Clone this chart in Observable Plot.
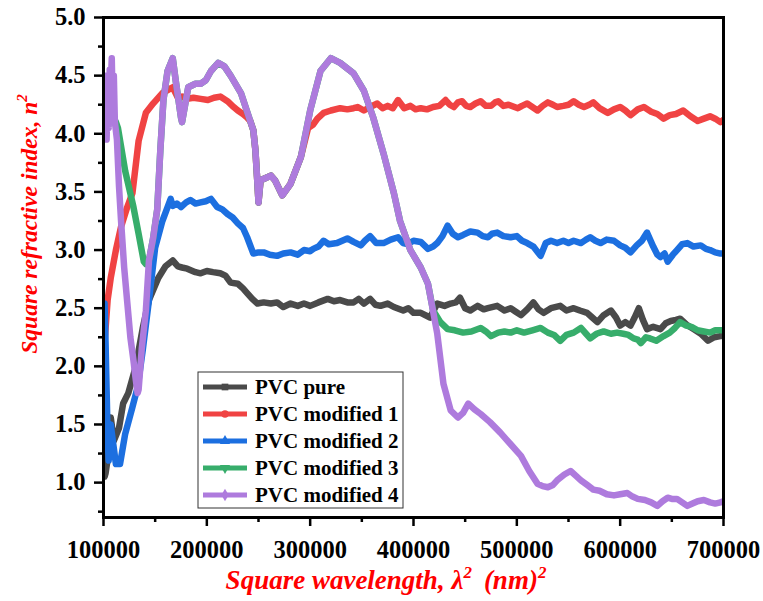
<!DOCTYPE html>
<html><head><meta charset="utf-8">
<script src="https://cdn.jsdelivr.net/npm/d3@7"></script>
<script src="https://cdn.jsdelivr.net/npm/@observablehq/plot@0.6"></script>
<style>body{margin:0;background:#fff}</style>
</head><body><div id="chart"></div>
<script>
const seriesNames = ["PVC pure", "PVC modified 1", "PVC modified 2", "PVC modified 3", "PVC modified 4"];
const seriesColors = ["#4a4a4a", "#f04343", "#1c6fe0", "#37ad6b", "#ae7bdd"];
const xTicks = [100000, 200000, 300000, 400000, 500000, 600000, 700000];
const xMinorTicks = [150000, 250000, 350000, 450000, 550000, 650000];
const yTicks = [1.0, 1.5, 2.0, 2.5, 3.0, 3.5, 4.0, 4.5, 5.0];
const yMinorTicks = [0.75, 1.25, 1.75, 2.25, 2.75, 3.25, 3.75, 4.25, 4.75];

const pvcPure = [[100000,1.35],[101000,1.05],[102000,1.08],[104000,1.20],[107000,1.56],[110000,1.36],[115000,1.47],[119000,1.68],[124000,1.77],[131000,1.99],[138000,2.33],[144000,2.57],[153000,2.76],[160000,2.86],[167000,2.91],[172000,2.86],[176000,2.85],[181000,2.84],[189000,2.81],[194000,2.80],[200000,2.82],[206000,2.81],[213000,2.80],[218000,2.78],[223000,2.72],[230000,2.71],[235000,2.67],[239000,2.63],[244000,2.58],[249000,2.54],[255000,2.55],[262000,2.54],[268000,2.55],[274000,2.51],[281000,2.54],[288000,2.52],[294000,2.54],[300000,2.52],[308000,2.55],[317000,2.58],[323000,2.56],[329000,2.57],[336000,2.55],[342000,2.55],[347000,2.58],[352000,2.54],[358000,2.58],[363000,2.53],[368000,2.52],[375000,2.54],[381000,2.51],[390000,2.48],[395000,2.50],[400000,2.46],[407000,2.46],[416000,2.42],[423000,2.54],[430000,2.52],[436000,2.54],[441000,2.55],[445000,2.59],[450000,2.50],[455000,2.48],[462000,2.52],[468000,2.49],[472000,2.50],[481000,2.52],[488000,2.48],[494000,2.50],[499000,2.47],[504000,2.44],[510000,2.49],[516000,2.55],[521000,2.49],[526000,2.46],[533000,2.50],[542000,2.52],[548000,2.48],[555000,2.50],[561000,2.48],[568000,2.46],[573000,2.42],[578000,2.38],[584000,2.44],[591000,2.48],[596000,2.42],[600000,2.35],[605000,2.38],[610000,2.35],[614000,2.42],[618000,2.50],[622000,2.40],[626000,2.32],[632000,2.34],[639000,2.32],[644000,2.37],[649000,2.39],[654000,2.40],[658000,2.41],[664000,2.36],[671000,2.32],[678000,2.28],[685000,2.22],[691000,2.25],[697000,2.26],[700000,2.28]];

const pvcMod1 = [[100000,1.88],[101000,2.20],[104000,2.57],[107000,2.76],[112000,3.00],[117000,3.20],[123000,3.37],[128000,3.49],[134000,3.94],[141000,4.18],[148000,4.26],[157000,4.35],[165000,4.39],[167000,4.40],[172000,4.31],[176000,4.32],[181000,4.30],[187000,4.31],[194000,4.30],[201000,4.29],[207000,4.31],[213000,4.32],[220000,4.28],[226000,4.23],[230000,4.20],[235000,4.17],[239000,4.14],[242000,4.11],[245000,4.03],[247000,3.86],[249000,3.57],[250000,3.41],[252000,3.60],[257000,3.62],[262000,3.64],[266000,3.60],[273000,3.47],[281000,3.57],[291000,3.80],[298000,4.05],[303000,4.08],[307000,4.13],[313000,4.18],[320000,4.20],[329000,4.22],[336000,4.21],[342000,4.22],[346000,4.23],[352000,4.20],[358000,4.23],[365000,4.26],[370000,4.22],[375000,4.24],[380000,4.22],[385000,4.29],[391000,4.22],[397000,4.24],[402000,4.21],[407000,4.22],[413000,4.21],[419000,4.23],[425000,4.24],[431000,4.29],[435000,4.25],[439000,4.23],[443000,4.27],[447000,4.28],[451000,4.24],[455000,4.23],[460000,4.26],[465000,4.28],[470000,4.24],[475000,4.24],[479000,4.27],[482000,4.28],[487000,4.24],[492000,4.25],[501000,4.22],[505000,4.24],[510000,4.26],[515000,4.23],[520000,4.20],[525000,4.24],[530000,4.27],[535000,4.25],[539000,4.23],[545000,4.24],[550000,4.25],[555000,4.28],[560000,4.25],[565000,4.23],[570000,4.25],[574000,4.27],[580000,4.22],[588000,4.18],[594000,4.21],[600000,4.23],[605000,4.20],[610000,4.16],[617000,4.21],[623000,4.23],[630000,4.19],[636000,4.17],[642000,4.13],[648000,4.16],[654000,4.17],[661000,4.20],[668000,4.15],[675000,4.11],[681000,4.13],[687000,4.15],[692000,4.13],[697000,4.10],[700000,4.12]];

const pvcMod2 = [[100000,2.10],[101000,2.54],[102000,2.20],[103000,1.80],[104000,1.40],[105000,1.19],[107000,1.50],[109000,1.36],[112000,1.16],[116000,1.16],[121000,1.42],[128000,1.65],[133000,1.82],[138000,2.14],[144000,2.57],[150000,3.02],[157000,3.25],[165000,3.44],[167000,3.38],[171000,3.40],[175000,3.37],[180000,3.41],[184000,3.43],[189000,3.40],[194000,3.41],[199000,3.42],[204000,3.44],[210000,3.37],[215000,3.35],[220000,3.31],[225000,3.28],[230000,3.23],[235000,3.19],[239000,3.11],[245000,2.97],[250000,2.98],[255000,2.98],[261000,2.96],[268000,2.95],[274000,2.97],[281000,2.98],[288000,2.96],[294000,3.00],[300000,2.99],[303000,3.01],[308000,3.03],[313000,3.08],[318000,3.05],[326000,3.06],[331000,3.08],[336000,3.10],[342000,3.07],[349000,3.04],[353000,3.08],[358000,3.12],[364000,3.06],[371000,3.06],[378000,3.09],[385000,3.11],[390000,3.06],[394000,3.05],[400000,3.08],[407000,3.07],[414000,3.01],[419000,3.03],[423000,3.06],[428000,3.12],[433000,3.21],[438000,3.14],[443000,3.11],[448000,3.13],[455000,3.16],[462000,3.15],[467000,3.12],[472000,3.11],[476000,3.14],[481000,3.15],[487000,3.12],[494000,3.11],[500000,3.12],[505000,3.08],[510000,3.06],[516000,3.03],[523000,2.95],[528000,3.06],[533000,3.08],[539000,3.06],[545000,3.08],[550000,3.06],[555000,3.08],[562000,3.06],[567000,3.09],[571000,3.11],[576000,3.08],[581000,3.06],[587000,3.09],[594000,3.08],[600000,3.04],[605000,3.02],[610000,2.98],[616000,3.04],[621000,3.08],[626000,3.15],[632000,3.03],[636000,2.96],[639000,2.94],[643000,2.97],[646000,2.90],[651000,2.96],[655000,3.00],[660000,3.05],[665000,3.06],[671000,3.03],[678000,3.04],[683000,3.01],[687000,3.00],[692000,2.98],[697000,2.97],[700000,2.97]];

const pvcMod3 = [[100000,4.30],[103000,4.35],[106000,4.25],[109000,4.15],[112000,4.10],[114000,4.05],[121000,3.68],[129000,3.37],[134000,3.14],[139000,2.90],[141000,2.88],[144000,2.91],[148000,3.10],[152000,3.35],[155000,3.86],[158000,4.29],[162000,4.54],[167000,4.65],[170000,4.45],[175000,4.14],[176000,4.10],[179000,4.25],[182000,4.40],[189000,4.43],[194000,4.43],[199000,4.46],[204000,4.54],[211000,4.61],[217000,4.58],[223000,4.50],[233000,4.35],[242000,4.11],[245000,4.03],[247000,3.86],[249000,3.57],[250000,3.41],[252000,3.60],[257000,3.62],[262000,3.64],[266000,3.60],[273000,3.47],[281000,3.57],[291000,3.80],[300000,4.20],[310000,4.54],[320000,4.65],[329000,4.61],[342000,4.52],[352000,4.37],[361000,4.14],[371000,3.83],[381000,3.49],[387000,3.25],[397000,3.00],[407000,2.85],[414000,2.71],[419000,2.48],[426000,2.38],[433000,2.32],[440000,2.31],[448000,2.29],[456000,2.30],[465000,2.33],[470000,2.30],[475000,2.26],[482000,2.29],[488000,2.30],[494000,2.29],[500000,2.31],[507000,2.29],[515000,2.31],[523000,2.33],[530000,2.29],[536000,2.27],[542000,2.22],[548000,2.27],[555000,2.29],[562000,2.33],[567000,2.28],[571000,2.24],[577000,2.28],[584000,2.30],[591000,2.28],[597000,2.29],[603000,2.28],[608000,2.27],[613000,2.24],[617000,2.23],[620000,2.20],[625000,2.25],[629000,2.24],[635000,2.22],[642000,2.26],[648000,2.29],[653000,2.33],[658000,2.38],[664000,2.35],[669000,2.34],[675000,2.31],[681000,2.30],[687000,2.29],[692000,2.31],[697000,2.31],[700000,2.31]];

const pvcMod4 = [[100000,4.45],[101000,4.10],[102000,4.50],[103000,3.95],[104000,4.35],[105000,4.05],[106000,4.55],[107000,4.40],[108000,4.65],[109000,4.20],[110000,4.50],[111000,4.10],[113000,3.95],[115000,3.55],[117000,3.25],[120000,2.85],[123000,2.55],[126000,2.25],[129000,2.05],[131000,1.90],[133000,1.77],[134000,1.80],[137000,2.15],[141000,2.48],[144000,2.91],[148000,3.10],[152000,3.35],[155000,3.86],[158000,4.29],[162000,4.54],[167000,4.65],[170000,4.45],[175000,4.14],[176000,4.10],[179000,4.25],[182000,4.40],[189000,4.43],[194000,4.43],[199000,4.46],[204000,4.54],[211000,4.61],[217000,4.58],[223000,4.50],[233000,4.35],[242000,4.11],[245000,4.03],[247000,3.86],[249000,3.57],[250000,3.41],[252000,3.60],[257000,3.62],[262000,3.64],[266000,3.60],[273000,3.47],[281000,3.57],[291000,3.80],[300000,4.20],[310000,4.54],[320000,4.65],[329000,4.61],[342000,4.52],[352000,4.37],[361000,4.14],[371000,3.83],[381000,3.49],[387000,3.25],[397000,3.00],[407000,2.85],[414000,2.71],[423000,2.28],[429000,1.85],[436000,1.62],[443000,1.56],[448000,1.60],[453000,1.68],[459000,1.63],[465000,1.59],[474000,1.52],[484000,1.43],[494000,1.33],[504000,1.23],[512000,1.10],[520000,0.99],[525000,0.97],[530000,0.96],[535000,0.98],[539000,1.02],[546000,1.07],[552000,1.10],[557000,1.06],[562000,1.02],[568000,0.98],[574000,0.94],[580000,0.93],[587000,0.90],[594000,0.89],[600000,0.90],[607000,0.91],[612000,0.88],[617000,0.86],[624000,0.85],[630000,0.83],[636000,0.80],[641000,0.84],[646000,0.87],[650000,0.86],[655000,0.86],[660000,0.83],[665000,0.80],[670000,0.82],[675000,0.84],[681000,0.85],[687000,0.83],[692000,0.82],[697000,0.83],[700000,0.84]];

const allSeries = [pvcPure, pvcMod1, pvcMod2, pvcMod3, pvcMod4];
const rows = allSeries.flatMap((s, i) => s.map(([x, y]) => ({series: seriesNames[i], x, y})));

const plot = Plot.plot({
  width: 763,
  height: 601,
  marginLeft: 103,
  marginRight: 40,
  marginTop: 17,
  marginBottom: 84,
  style: {fontFamily: "'Liberation Serif', 'Times New Roman', serif", fontWeight: "bold", fontSize: "24px", color: "#000", background: "#fff", overflow: "visible"},
  x: {domain: [100000, 700000], label: null},
  y: {domain: [0.7, 5.0], label: null},
  color: {domain: seriesNames, range: seriesColors},
  marks: [
    Plot.line(rows, {x: "x", y: "y", z: "series", stroke: "series", strokeWidth: 6.5, strokeLinejoin: "round", strokeLinecap: "round", clip: true}),
    Plot.axisX(xMinorTicks, {tickSize: 5, tickFormat: () => "", strokeWidth: 2.5}),
    Plot.axisX(xTicks, {tickSize: 9, tickPadding: 14, tickFormat: d3.format("d"), strokeWidth: 2.5, fontSize: 24.5, fontWeight: "bold"}),
    Plot.axisY(yMinorTicks, {tickSize: 5, tickFormat: () => "", strokeWidth: 2.5}),
    Plot.axisY(yTicks, {tickSize: 9, tickPadding: 9, tickFormat: d3.format(".1f"), strokeWidth: 2.5, fontSize: 24.5, fontWeight: "bold"}),
    Plot.frame({stroke: "#000", strokeWidth: 3})
  ]
});

const svg = d3.select(plot);
const serif = "'Liberation Serif', 'Times New Roman', serif";

// axis titles
const xt = svg.append("text").attr("x", 386).attr("y", 589).attr("text-anchor", "middle")
  .attr("fill", "#ff0000").attr("font-family", serif).attr("font-style", "italic").attr("font-weight", "bold").attr("font-size", 27);
xt.append("tspan").text("Square wavelength, λ");
xt.append("tspan").attr("dy", -11).attr("font-size", 17).text("2");
xt.append("tspan").attr("dy", 11).attr("dx", 12).text("(nm)");
xt.append("tspan").attr("dy", -11).attr("font-size", 17).text("2");

const yt = svg.append("text").attr("transform", "translate(37,224) rotate(-90)").attr("text-anchor", "middle")
  .attr("fill", "#ff0000").attr("font-family", serif).attr("font-style", "italic").attr("font-weight", "bold").attr("font-size", 23.5);
yt.append("tspan").text("Square refractive index, n");
yt.append("tspan").attr("dy", -10).attr("font-size", 15).text("2");

// legend
const symbols = [d3.symbolSquare, d3.symbolCircle, d3.symbolTriangle, d3.symbolTriangle, d3.symbolDiamond];
const rot = [0, 0, 0, 180, 0];
const lg = svg.append("g");
lg.append("rect").attr("x", 198).attr("y", 372).attr("width", 205).attr("height", 136)
  .attr("fill", "#fff").attr("stroke", "#333").attr("stroke-width", 1);
seriesNames.forEach((name, i) => {
  const cy = 387 + i * 27;
  lg.append("line").attr("x1", 203).attr("x2", 247).attr("y1", cy).attr("y2", cy)
    .attr("stroke", seriesColors[i]).attr("stroke-width", 5);
  lg.append("path").attr("d", d3.symbol(symbols[i], 45)())
    .attr("transform", `translate(225,${cy}) rotate(${rot[i]})`).attr("fill", seriesColors[i]);
  lg.append("text").attr("x", 255).attr("y", cy).attr("dy", "0.35em").attr("text-anchor", "start")
    .attr("font-family", serif).attr("font-weight", "bold").attr("font-size", 21).attr("fill", "#000").text(name);
});

document.getElementById("chart").append(plot);
</script>
</body></html>
